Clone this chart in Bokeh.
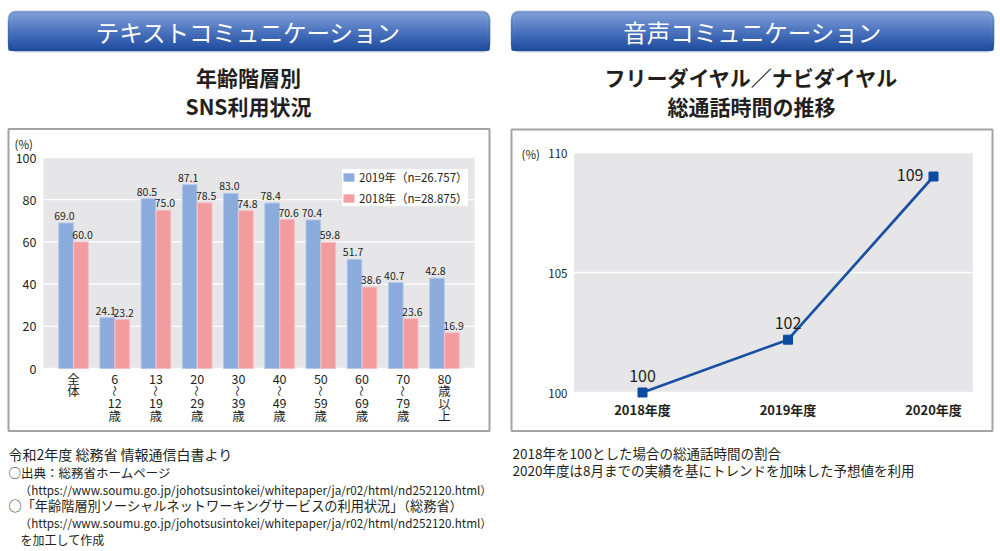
import math
from bokeh.plotting import figure
from bokeh.models import Range1d, Legend, LegendItem, BoxAnnotation
from bokeh.core.properties import value
from bokeh.embed import file_html
from bokeh.resources import INLINE

# ---------------- data ----------------
age_groups = ["全体", "6～12歳", "13～19歳", "20～29歳", "30～39歳",
              "40～49歳", "50～59歳", "60～69歳", "70～79歳", "80歳以上"]
age_tick_labels = ["全\n体", "6\n～\n12\n歳", "13\n～\n19\n歳", "20\n～\n29\n歳", "30\n～\n39\n歳",
                   "40\n～\n49\n歳", "50\n～\n59\n歳", "60\n～\n69\n歳", "70\n～\n79\n歳", "80\n歳\n以\n上"]
sns_2019 = [69.0, 24.1, 80.5, 87.1, 83.0, 78.4, 70.4, 51.7, 40.7, 42.8]
sns_2018 = [60.0, 23.2, 75.0, 78.5, 74.8, 70.6, 59.8, 38.6, 23.6, 16.9]
label_2019 = "2019年（n=26.757）"
label_2018 = "2018年（n=28.875）"
sns_yticks = [0, 20, 40, 60, 80, 100]

call_years = ["2018年度", "2019年度", "2020年度"]
call_index = [100, 102.2, 109]
call_yticks = [100, 105, 110]

banner_left = "テキストコミュニケーション"
banner_right = "音声コミュニケーション"
title_left = ["年齢階層別", "SNS利用状況"]
title_right = ["フリーダイヤル／ナビダイヤル", "総通話時間の推移"]
notes_left = ["令和2年度 総務省 情報通信白書より",
              "○出典：総務省ホームページ",
              "（https://www.soumu.go.jp/johotsusintokei/whitepaper/ja/r02/html/nd252120.html）",
              "○「年齢階層別ソーシャルネットワーキングサービスの利用状況」（総務省）",
              "（https://www.soumu.go.jp/johotsusintokei/whitepaper/ja/r02/html/nd252120.html）",
              "を加工して作成"]
notes_right = ["2018年を100とした場合の総通話時間の割合",
               "2020年度は8月までの実績を基にトレンドを加味した予想値を利用"]

# ---------------- layout helpers ----------------
W, H = 1000, 551
FONT_NAME = "Noto Sans CJK JP"
FONT = value(FONT_NAME)
DARK = "#231f20"


def Y(py):
    return H - py


def xr(v_a, px_a, v_b, px_b):
    k = (v_b - v_a) / (px_b - px_a)
    return Range1d(start=v_a - px_a * k, end=v_a + (W - px_a) * k)


def yr(v_a, py_a, v_b, py_b):
    k = (v_b - v_a) / (py_b - py_a)
    return Range1d(start=v_a + (H - py_a) * k, end=v_a - py_a * k)


p = figure(width=W, height=H, x_range=Range1d(0, W), y_range=Range1d(0, H),
           min_border=0, toolbar_location=None, output_backend="svg",
           x_axis_location=None, y_axis_location=None)
p.xgrid.visible = False
p.ygrid.visible = False
p.outline_line_color = None
p.background_fill_color = "white"
p.border_fill_color = "white"

p.extra_x_ranges = {"lx": xr(0, 73, 9, 444), "rx": xr(0, 642, 2, 933)}
p.extra_y_ranges = {"ly": yr(0, 368, 100, 157), "ry": yr(100, 392, 110, 152)}


# ---------------- banners ----------------
def hexc(c):
    return "#%02x%02x%02x" % tuple(int(round(v)) for v in c)


def banner(x0, x1, y0, y1, text, cx):
    p.add_layout(BoxAnnotation(left=x0 + 1, right=x1 + 1, top=Y(y0 + 2), bottom=Y(y1 + 2),
                               fill_color="#b8bcc6", fill_alpha=0.6, line_color=None,
                               border_radius=7, level="underlay"))
    top_c = (0x80, 0xa0, 0xd8)
    mid_c = (0x4c, 0x73, 0xbe)
    bot_c = (0x20, 0x4e, 0x9f)
    N = 26
    for k in range(N):
        t = k / (N - 1)
        if t < 0.5:
            c = [a + (b - a) * (t / 0.5) for a, b in zip(top_c, mid_c)]
        else:
            c = [a + (b - a) * ((t - 0.5) / 0.5) for a, b in zip(mid_c, bot_c)]
        yk = y0 + (y1 - y0) * k / N
        p.add_layout(BoxAnnotation(left=x0, right=x1, top=Y(yk), bottom=Y(y1),
                                   fill_color=hexc(c), fill_alpha=1, line_color=None,
                                   border_radius=7, level="underlay"))
    p.add_layout(BoxAnnotation(left=x0, right=x1, top=Y(y0), bottom=Y(y1),
                               fill_alpha=0, line_color="#1c4692", line_width=2,
                               border_radius=7, level="underlay"))
    p.text(x=[cx], y=[Y((y0 + y1) / 2 + 1)], text=[text], text_font=FONT,
           text_font_size="23.5px", text_color="white",
           text_align="center", text_baseline="middle")


banner(8, 489, 11, 50, banner_left, 248)
banner(511, 993, 11, 50, banner_right, 752)

# ---------------- titles ----------------
for cx, lines in ((248, title_left), (751, title_right)):
    p.text(x=[cx, cx], y=[Y(76), Y(105)], text=lines, text_font=FONT,
           text_font_size="21px", text_font_style="bold", text_color=DARK,
           text_align="center", text_baseline="middle")

# ---------------- chart boxes ----------------
p.quad(left=[8, 511], right=[489, 992], top=[Y(128.5), Y(129)], bottom=[Y(430.5), Y(430.5)],
       fill_alpha=0, line_color="#a3a3a3", line_width=2)

# ---------------- left: bar chart ----------------
L_X0, L_X1 = -0.73, 9.73
p.quad(left=[L_X0], right=[L_X1], bottom=[min(sns_yticks)], top=[max(sns_yticks)],
       fill_color="#e6e6e8", line_color=None, x_range_name="lx", y_range_name="ly")
p.segment(x0=[L_X0] * len(sns_yticks), x1=[L_X1] * len(sns_yticks), y0=sns_yticks, y1=sns_yticks,
          line_color="white", line_width=1.3, x_range_name="lx", y_range_name="ly")

idx = list(range(len(age_groups)))
off = 0.182
bw = 0.355
x19 = [i - off for i in idx]
x18 = [i + off for i in idx]
r19 = p.vbar(x=x19, top=sns_2019, bottom=0, width=bw, fill_color="#8aabdb",
             line_color="#b3c8ea", line_width=1, x_range_name="lx", y_range_name="ly")
r18 = p.vbar(x=x18, top=sns_2018, bottom=0, width=bw, fill_color="#f29ca0",
             line_color="#f6c0c2", line_width=1, x_range_name="lx", y_range_name="ly")

p.text(x=x19, y=sns_2019, text=[f"{v:.1f}" for v in sns_2019], text_font=FONT,
       text_font_size="10.5px", text_color=DARK, text_align="center", text_baseline="bottom",
       x_offset=-1.5, y_offset=-3, x_range_name="lx", y_range_name="ly")
p.text(x=x18, y=sns_2018, text=[f"{v:.1f}" for v in sns_2018], text_font=FONT,
       text_font_size="10.5px", text_color=DARK, text_align="center", text_baseline="bottom",
       x_offset=1.5, y_offset=-3, x_range_name="lx", y_range_name="ly")

# y tick labels
p.text(x=[36] * len(sns_yticks), y=sns_yticks, text=[str(t) for t in sns_yticks], text_font=FONT,
       text_font_size="12.5px", text_color=DARK, text_align="right", text_baseline="middle",
       y_range_name="ly")
p.text(x=[14], y=[Y(143)], text=["(%)"], text_font=FONT, text_font_size="11.5px",
       text_color=DARK, text_align="left", text_baseline="middle")

# x tick labels (stacked vertically; the wave dash is turned upright)
nx, ny, nt, wx, wy, wt = [], [], [], [], [], []
for i, lab in zip(idx, age_tick_labels):
    for j, part in enumerate(lab.split("\n")):
        yy = Y(378 + 12.4 * j)
        if part == "～":
            wx.append(i); wy.append(yy); wt.append(part)
        else:
            nx.append(i); ny.append(yy); nt.append(part)
p.text(x=nx, y=ny, text=nt, text_font=FONT, text_font_size="12.5px",
       text_color=DARK, text_align="center", text_baseline="middle", x_range_name="lx")
p.text(x=wx, y=wy, text=wt, text_font=FONT, text_font_size="11px",
       text_color=DARK, text_align="center", text_baseline="middle", angle=-math.pi / 2,
       x_range_name="lx")

legend = Legend(items=[LegendItem(label=label_2019, renderers=[r19]),
                       LegendItem(label=label_2018, renderers=[r18])],
                location=(342, H - 206), orientation="vertical",
                background_fill_color="white", background_fill_alpha=1,
                border_line_color=None, padding=6, spacing=5, margin=0,
                glyph_width=13, glyph_height=10, label_standoff=4, label_height=12,
                label_text_font=FONT_NAME, label_text_font_size="11.5px",
                label_text_color=DARK, label_text_baseline="middle")
p.add_layout(legend, "center")

# ---------------- right: line chart ----------------
R_X0, R_X1 = -0.47, 2.27
p.quad(left=[R_X0], right=[R_X1], bottom=[min(call_yticks)], top=[max(call_yticks)],
       fill_color="#e6e6e8", line_color=None, x_range_name="rx", y_range_name="ry")
p.segment(x0=[R_X0] * len(call_yticks), x1=[R_X1] * len(call_yticks), y0=call_yticks, y1=call_yticks,
          line_color="white", line_width=1.3, x_range_name="rx", y_range_name="ry")

cidx = list(range(len(call_years)))
p.line(x=cidx, y=call_index, line_color="#1851a3", line_width=2.7,
       x_range_name="rx", y_range_name="ry")
p.scatter(x=cidx, y=call_index, marker="square", size=9, fill_color="#0c4ca0",
          line_color="#0c4ca0", x_range_name="rx", y_range_name="ry")

p.text(x=cidx[:2], y=call_index[:2], text=[f"{v:.0f}" for v in call_index[:2]], text_font=FONT,
       text_font_size="16px", text_color=DARK, text_align="center", text_baseline="middle",
       y_offset=-17, x_range_name="rx", y_range_name="ry")
p.text(x=cidx[2:], y=call_index[2:], text=[f"{v:.0f}" for v in call_index[2:]], text_font=FONT,
       text_font_size="16px", text_color=DARK, text_align="right", text_baseline="middle",
       x_offset=-10, y_offset=-2, x_range_name="rx", y_range_name="ry")

p.text(x=[567] * len(call_yticks), y=call_yticks, text=[str(t) for t in call_yticks], text_font=FONT,
       text_font_size="11.5px", text_color=DARK, text_align="right", text_baseline="middle",
       y_offset=1, y_range_name="ry")
p.text(x=[521], y=[Y(153)], text=["(%)"], text_font=FONT, text_font_size="11.5px",
       text_color=DARK, text_align="left", text_baseline="middle")
p.text(x=cidx, y=[Y(409)] * len(cidx), text=call_years, text_font=FONT,
       text_font_size="13px", text_font_style="bold", text_color=DARK, text_align="center",
       text_baseline="middle", x_range_name="rx")

# ---------------- footnotes ----------------
left_y = [453, 472, 488.5, 505, 522, 539]
left_x = [8, 8, 19, 8, 19, 20]
left_sz = ["14px", "12.5px", "11.7px", "13.2px", "11.7px", "12px"]
for tx, xx, yy, sz in zip(notes_left, left_x, left_y, left_sz):
    p.text(x=[xx], y=[Y(yy)], text=[tx], text_font=FONT, text_font_size=sz,
           text_color=DARK, text_align="left", text_baseline="middle")
for tx, yy in zip(notes_right, [452.5, 469.5]):
    p.text(x=[512], y=[Y(yy)], text=[tx], text_font=FONT, text_font_size="13.5px",
           text_color=DARK, text_align="left", text_baseline="middle")

open("out.html", "w").write(file_html(p, INLINE))
